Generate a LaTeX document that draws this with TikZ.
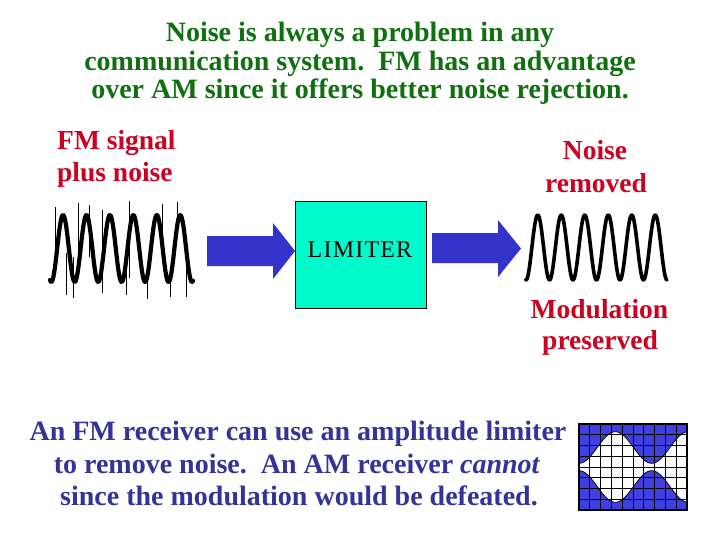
\documentclass[tikz,border=0pt]{standalone}
\usepackage{fontspec}
\setmainfont{Liberation Serif}
\definecolor{titlegreen}{RGB}{16,112,16}
\definecolor{labred}{RGB}{204,0,32}
\definecolor{txtblue}{RGB}{51,51,153}
\definecolor{arrowblue}{RGB}{51,51,204}
\definecolor{limfill}{RGB}{0,250,204}
\definecolor{amblue}{RGB}{64,64,224}
\tikzset{
  titletxt/.style={text=titlegreen, font=\fontsize{28}{30}\selectfont\bfseries, anchor=base, inner sep=0pt},
  redtxt/.style={text=labred, font=\fontsize{27.5}{30}\selectfont\bfseries, anchor=base, inner sep=0pt},
  bluetxt/.style={text=txtblue, font=\fontsize{28}{30}\selectfont\bfseries, anchor=base, inner sep=0pt},
  limbox/.style={draw=black, line width=1pt, fill=limfill, minimum width=131pt, minimum height=106pt, inner sep=0pt},
  wave/.style={line width=4.2pt, line join=round, line cap=round},
  spike/.style={line width=1pt},
  blockarrow/.style={fill=arrowblue},
  declare function={amh(\x)=3.7+31.6*(1-cos((\x-579)*4.952))/2;}
}
\begin{document}
\begin{tikzpicture}[x=1pt,y=-1pt]
\useasboundingbox (0,0) rectangle (720,540);
\fill[white] (0,0) rectangle (720,540);

% title
\node[titletxt] (t1) at (360,42) {Noise is always a problem in any};
\node[titletxt] (t2) at (360,70.5) {communication system.\ \ FM has an advantage};
\node[titletxt] (t3) at (360,99) {over AM since it offers better noise rejection.};

% red labels
\node[redtxt, anchor=base west] (in1) at (57,150) {FM signal};
\node[redtxt, anchor=base west] (in2) at (57,182) {plus noise};
\node[redtxt] (out1) at (595,160) {Noise};
\node[redtxt] (out2) at (596,193) {removed};
\node[redtxt] (mod1) at (599.5,318) {Modulation};
\node[redtxt] (mod2) at (600,349) {preserved};

% input waveform with noise
\draw[wave] plot[domain=50:193, samples=220, smooth] (\x,{248.5+33.5*cos((\x-51.3)*15.352)});
\foreach \sx/\ya/\yb in {55/207/257, 66/253/295, 73/257/298, 78/203/262, 89/205/257,
  102/210/293, 126/257/295, 129/201/278, 147/272/299, 162/204/248, 170/272/297,
  177/202/232, 186/255/297}
  \draw[spike] (\sx,\ya) -- (\sx,\yb);

% output waveform
\draw[wave, line width=3.6pt] plot[domain=525.5:667, samples=220, smooth] (\x,{247.5+32.5*cos((\x-526)*15.319)});

% limiter
\node[limbox] (lim) at (361,255) {};
\node[font=\fontsize{24}{24}\selectfont\addfontfeature{LetterSpace=5}, inner sep=0pt] (limtxt) at (360,250) {LIMITER};

% block arrows
\coordinate (a1tip) at (lim.west |- 0,251);
\fill[blockarrow] (207,236) -- (273,236) -- (273,223) -- (a1tip) -- (273,279) -- (273,266) -- (207,266) -- cycle;
\coordinate (a2tip) at (521,248.5);
\fill[blockarrow] (432,233) -- (498,233) -- (498,220) -- (a2tip) -- (498,277) -- (498,263) -- (432,263) -- cycle;

% bottom text
\node[bluetxt] (b1) at (298,440) {An FM receiver can use an amplitude limiter};
\node[bluetxt] (b2) at (297,473) {to remove noise.\ \ An AM receiver \textit{cannot}};
\node[bluetxt] (b3) at (299,505) {since the modulation would be defeated.};

% AM picture
\fill[amblue] (579,424) rectangle (687,510);
\fill[white] plot[domain=579:687, samples=120, smooth] (\x,{467-amh(\x)})
  -- plot[domain=687:579, samples=120, smooth] (\x,{467+amh(\x)}) -- cycle;
\draw[line width=0.8pt] plot[domain=579:687, samples=120, smooth] (\x,{467-amh(\x)});
\draw[line width=0.8pt] plot[domain=579:687, samples=120, smooth] (\x,{467+amh(\x)});
\foreach \i in {1,...,9} \draw[line width=1pt] ({579+10.8*\i},424) -- ({579+10.8*\i},510);
\foreach \j in {1,...,7} \draw[line width=1pt] (579,{424+10.75*\j}) -- (687,{424+10.75*\j});
\draw[line width=1.5pt] (579,424) rectangle (687,510);
\end{tikzpicture}
\end{document}
